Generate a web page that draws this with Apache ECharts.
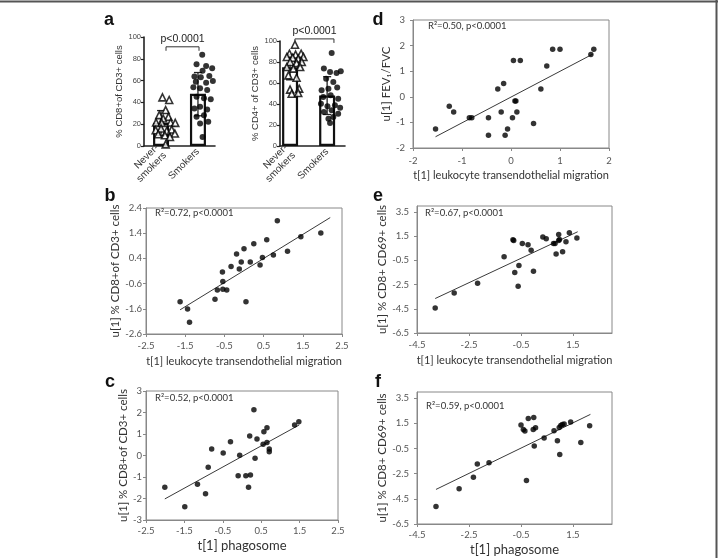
<!DOCTYPE html>
<html><head><meta charset="utf-8">
<script src="https://cdn.jsdelivr.net/npm/echarts@6/dist/echarts.min.js"></script>
<style>html,body{margin:0;padding:0;background:#fff}#c{width:718px;height:558px}</style>
</head><body><div id="c"></div>
<script>
// ---------- Panel a ----------
const aCategories = ['Never-\nsmokers', 'Smokers'];
const a1BarPos = [0.48, 1.52];
const a1Means = [21, 48];
const a1Err = [[0.48, 9.5, 32.5], [1.52, 27.7, 67.4]];
const a1Bracket = [[0.62, 1.55, 91, 'p<0.0001']];
const a1Never = [[0.52,44.6],[0.71,42.2],[0.61,33],[0.43,28.3],[0.69,26.8],[0.54,25.2],[0.34,21.5],[0.50,21.2],[0.75,21.5],[0.88,21.2],[0.33,14.5],[0.48,16],[0.64,13.8],[0.78,15.1],[0.87,11.4],[0.40,10.8],[0.59,9.8],[0.73,8.3],[0.61,1.5]];
const a1Smokers = [[1.64,83.7],[1.48,75],[1.75,73.5],[1.92,71.4],[1.65,69],[1.42,63.7],[1.60,63],[1.84,64.3],[1.46,59],[1.75,58],[1.94,59.7],[1.39,53.8],[1.58,52.9],[1.78,51.4],[1.48,45.2],[1.69,43.7],[1.88,42.8],[1.42,34.5],[1.58,36],[1.78,33.5],[1.48,26.8],[1.69,28.3],[1.58,20.6],[1.81,22.2],[1.65,8.3]];

const a2BarPos = [0.31, 1.45];
const a2Means = [75, 48];
const a2Err = [[0.31, 63, 87], [1.45, 30, 66]];
const a2Bracket = [[0.46, 1.66, 102, 'p<0.0001']];
const a2Never = [[0.46,96.5],[0.29,87.9],[0.48,87],[0.65,87.9],[0.21,84.8],[0.39,84.1],[0.56,83.2],[0.72,84.8],[0.31,80],[0.51,79],[0.67,80],[0.21,75.2],[0.41,73.7],[0.62,75.2],[0.26,67.3],[0.51,65],[0.31,53.7],[0.59,54.6],[0.36,49.8],[0.56,50.5]];
const a2Smokers = [[1.59,88.6],[1.35,73.7],[1.54,70.5],[1.74,69.5],[1.87,71.1],[1.42,64.1],[1.64,61],[1.28,53],[1.49,54.6],[1.76,55.6],[1.33,46.7],[1.56,48.3],[1.79,45.1],[1.26,40.3],[1.46,37.8],[1.69,38.7],[1.85,36.5],[1.35,32.4],[1.59,34],[1.79,30.8],[1.49,26],[1.64,27.6],[1.54,21.9]];

// ---------- Panel b ----------
const bPoints = [[-1.63,-1.32],[-1.44,-1.61],[-1.39,-2.13],[-0.74,-1.22],[-0.68,-0.85],[-0.55,-0.14],[-0.54,-0.52],[-0.54,-0.82],[-0.44,-0.85],[-0.33,0.08],[-0.19,0.57],[-0.12,-0.02],[-0.07,0.26],[0.00,0.78],[0.05,-1.32],[0.16,0.26],[0.25,0.98],[0.41,0.14],[0.47,0.44],[0.58,1.14],[0.75,0.53],[0.85,1.89],[1.11,0.68],[1.45,1.26],[1.96,1.41]];
const bTrend = [[-1.63,-1.64],[2.2,2.02]];
const bXTicks = [-2.5,-1.5,-0.5,0.5,1.5,2.5];
const bYTicks = [-2.6,-1.6,-0.6,0.4,1.4,2.4];

// ---------- Panel c ----------
const cPoints = [[-2.01,-1.48],[-1.49,-2.38],[-1.16,-1.34],[-0.95,-1.78],[-0.88,-0.55],[-0.79,0.30],[-0.49,0.12],[-0.30,0.64],[-0.10,-0.94],[-0.06,0.01],[0.10,-0.94],[0.17,-1.48],[0.20,0.91],[0.22,-0.91],[0.31,2.13],[0.34,-0.13],[0.39,0.77],[0.55,0.52],[0.57,1.11],[0.65,1.29],[0.65,0.61],[0.71,0.18],[0.71,0.30],[1.37,1.42],[1.48,1.57]];
const cTrend = [[-2.01,-2.02],[1.49,1.42]];
const cXTicks = [-2.5,-1.5,-0.5,0.5,1.5,2.5];
const cYTicks = [-3,-2,-1,0,1,2,3];

// ---------- Panel d ----------
const dPoints = [[-1.54,-1.26],[-1.26,-0.37],[-1.17,-0.59],[-0.85,-0.82],[-0.80,-0.82],[-0.46,-0.82],[-0.46,-1.50],[-0.27,0.30],[-0.15,0.52],[-0.20,-0.59],[-0.12,-1.50],[-0.07,-1.26],[0.03,-0.82],[0.05,1.42],[0.08,-0.16],[0.10,-0.16],[0.12,-0.59],[0.19,1.42],[0.46,-1.04],[0.61,0.30],[0.73,1.20],[0.85,1.86],[1.00,1.86],[1.63,1.65],[1.69,1.86]];
const dTrend = [[-1.54,-1.56],[1.67,1.67]];
const dXTicks = [-2,-1,0,1,2];
const dYTicks = [-2,-1,0,1,2,3];

// ---------- Panel e ----------
const ePoints = [[-3.80,-4.43],[-3.07,-3.19],[-2.17,-2.38],[-1.15,-0.20],[-0.81,1.21],[-0.78,1.15],[-0.74,-1.50],[-0.61,-2.63],[-0.58,-0.92],[-0.45,0.90],[-0.23,0.79],[-0.11,0.35],[-0.02,-1.39],[0.34,1.43],[0.47,1.29],[0.75,0.90],[0.81,0.90],[0.85,0.04],[0.95,1.65],[0.95,1.15],[0.98,1.23],[1.10,0.21],[1.23,1.04],[1.36,1.79],[1.65,1.35]];
const eTrend = [[-3.80,-3.65],[1.68,1.87]];
const eXTicks = [-4.5,-2.5,-0.5,1.5];
const eYTicks = [-6.5,-4.5,-2.5,-0.5,1.5,3.5];

// ---------- Panel f ----------
const fPoints = [[-3.77,-5.11],[-2.88,-3.70],[-2.33,-2.79],[-2.18,-1.73],[-1.73,-1.62],[-0.50,1.37],[-0.41,1.02],[-0.35,0.89],[-0.29,-3.03],[-0.22,1.90],[-0.03,1.02],[-0.01,1.98],[0.01,-0.29],[0.06,1.15],[0.39,0.35],[0.77,0.91],[0.90,0.13],[0.97,1.18],[0.99,-0.98],[1.03,1.34],[1.09,1.42],[1.16,1.45],[1.41,1.61],[1.80,-0.02],[2.14,1.31]];
const fTrend = [[-3.77,-3.75],[2.17,2.22]];
const fXTicks = [-4.5,-2.5,-0.5,1.5];
const fYTicks = [-6.5,-4.5,-2.5,-0.5,1.5,3.5];

const statTexts = ['R²=0.72, p<0.0001','R²=0.52, p<0.0001','R²=0.50, p<0.0001','R²=0.67, p<0.0001','R²=0.59, p<0.0001'];
const xNameLTM = 't[1] leukocyte transendothelial migration';
const xNamePhago = 't[1] phagosome';
const yNameCD8 = 'u[1] % CD8+of CD3+ cells';
const yNameFEV = 'u[1] FEV₁/FVC';
const yNameCD69 = 'u[1] % CD8+ CD69+ cells';

const FX = 'Lato, "Liberation Sans", sans-serif';
const FA = '"Liberation Sans", Arial, sans-serif';

const chart = echarts.init(document.getElementById('c'), null, {renderer: 'canvas'});

function aX(gi, pos) {
  return {gridIndex: gi, type: 'value', min: 0, max: 2,
    axisLine: {show: true, onZero: false, lineStyle: {color: '#222', width: 1.6}},
    axisTick: {show: false}, splitLine: {show: false},
    axisLabel: {customValues: pos, rotate: 45, fontSize: 10, lineHeight: 11, color: '#333', margin: 4, fontFamily: FA,
      formatter: v => aCategories[Math.abs(v - pos[0]) < 1e-6 ? 0 : 1]}};
}
function aY(gi, name, gap) {
  return {gridIndex: gi, type: 'value', min: 0, max: 100, interval: 20,
    axisLine: {show: true, onZero: false, lineStyle: {color: '#222', width: 1.6}},
    axisTick: {show: true, length: 3, lineStyle: {color: '#222', width: 1.2}},
    axisLabel: {fontSize: 7.5, color: '#444', margin: 3, fontFamily: FA},
    splitLine: {show: false},
    name, nameLocation: 'middle', nameGap: gap,
    nameTextStyle: {fontSize: 9.5, color: '#333', fontFamily: FA}};
}
function sX(gi, min, max, ticks, name, nameSize, nameGap, margin) {
  return {gridIndex: gi, type: 'value', min, max,
    axisLine: {show: true, onZero: false, lineStyle: {color: '#888', width: 1}},
    axisTick: {show: true, customValues: ticks, length: 3, lineStyle: {color: '#888'}},
    axisLabel: {customValues: ticks, fontSize: 9.5, color: '#555', margin, fontFamily: FX},
    splitLine: {show: false},
    name, nameLocation: 'middle', nameGap,
    nameTextStyle: {fontSize: nameSize, color: '#333', fontFamily: FX}};
}
function sY(gi, min, max, ticks, name, nameGap, margin) {
  return {gridIndex: gi, type: 'value', min, max,
    axisLine: {show: true, onZero: false, lineStyle: {color: '#888', width: 1}},
    axisTick: {show: true, customValues: ticks, length: 3, lineStyle: {color: '#888'}},
    axisLabel: {customValues: ticks, fontSize: 9.5, color: '#555', margin, fontFamily: FX},
    splitLine: {show: false},
    name, nameLocation: 'middle', nameGap,
    nameTextStyle: {fontSize: 11.5, color: '#333', fontFamily: FX}};
}

function errRender(params, api) {
  const x = api.value(0), lo = api.value(1), hi = api.value(2);
  const a = api.coord([x, lo]), b = api.coord([x, hi]);
  const w = 4, st = {stroke: '#222', lineWidth: 1.3};
  return {type: 'group', children: [
    {type: 'line', shape: {x1: a[0], y1: a[1], x2: b[0], y2: b[1]}, style: st},
    {type: 'line', shape: {x1: a[0]-w, y1: a[1], x2: a[0]+w, y2: a[1]}, style: st},
    {type: 'line', shape: {x1: b[0]-w, y1: b[1], x2: b[0]+w, y2: b[1]}, style: st}
  ]};
}
function bracketRender(params, api) {
  const x0 = api.value(0), x1 = api.value(1), y = api.value(2);
  const p0 = api.coord([x0, y]), p1 = api.coord([x1, y]);
  const leg = 4;
  return {type: 'group', children: [
    {type: 'polyline', shape: {points: [[p0[0], p0[1]+leg],[p0[0], p0[1]],[p1[0], p1[1]],[p1[0], p1[1]+leg]]},
      style: {stroke: '#333', lineWidth: 1, fill: null}},
    {type: 'text', x: (p0[0]+p1[0])/2, y: p0[1]-2,
      style: {text: 'p<0.0001', fill: '#222', fontSize: 10.5, fontFamily: FA, align: 'center', verticalAlign: 'bottom'}}
  ]};
}

function scatterSeries(gi, data) {
  return {type: 'scatter', xAxisIndex: gi, yAxisIndex: gi, data, symbolSize: 5.5,
    itemStyle: {color: '#000'}, z: 3};
}
function trendSeries(gi, data) {
  return {type: 'line', xAxisIndex: gi, yAxisIndex: gi, data, symbol: 'none',
    lineStyle: {color: '#3a3a3a', width: 1}, z: 2, silent: true};
}
function barData(pos, means) { return pos.map((p, i) => [p, means[i]]); }

const gridBox = {show: true, borderColor: '#888', borderWidth: 1, backgroundColor: 'transparent'};

const option = {
  animation: false,
  backgroundColor: '#fff',
  grid: [
    {left: 144, top: 37, width: 71, height: 109},
    {left: 280, top: 41, width: 65, height: 105},
    Object.assign({left: 146, top: 208, width: 196, height: 126}, gridBox),
    Object.assign({left: 146, top: 391, width: 192, height: 129}, gridBox),
    Object.assign({left: 413, top: 20, width: 196, height: 128}, gridBox),
    Object.assign({left: 417, top: 206, width: 195, height: 127}, gridBox),
    Object.assign({left: 417, top: 392, width: 195, height: 132}, gridBox)
  ],
  xAxis: [
    aX(0, a1BarPos), aX(1, a2BarPos),
    sX(2, -2.5, 2.5, bXTicks, xNameLTM, 11, 22, 7),
    sX(3, -2.5, 2.5, cXTicks, xNamePhago, 13, 19, 6),
    sX(4, -2, 2, dXTicks, xNameLTM, 11, 22, 8),
    sX(5, -4.5, 3.0, eXTicks, xNameLTM, 11, 22, 7),
    sX(6, -4.5, 3.0, fXTicks, xNamePhago, 13, 19, 6)
  ],
  yAxis: [
    aY(0, '% CD8+of CD3+ cells', 11), aY(1, '% CD4+ of CD3+ cells', 11),
    sY(2, -2.6, 2.4, bYTicks, yNameCD8, 21, 4),
    sY(3, -3, 3, cYTicks, yNameCD8, 16, 4),
    sY(4, -2, 3, dYTicks, yNameFEV, 16, 8),
    sY(5, -6.5, 4.0, eYTicks, yNameCD69, 25, 8),
    sY(6, -6.5, 4.0, fYTicks, yNameCD69, 25, 8)
  ],
  series: [
    {type: 'bar', xAxisIndex: 0, yAxisIndex: 0, data: barData(a1BarPos, a1Means), barWidth: 16,
      itemStyle: {color: '#fff', borderColor: '#111', borderWidth: 2.2}, z: 1},
    {type: 'custom', xAxisIndex: 0, yAxisIndex: 0, data: a1Err, renderItem: errRender, z: 2},
    {type: 'scatter', xAxisIndex: 0, yAxisIndex: 0, data: a1Never, symbol: 'triangle', symbolSize: 7,
      itemStyle: {color: '#fff', borderColor: '#000', borderWidth: 1.6}, z: 3},
    {type: 'scatter', xAxisIndex: 0, yAxisIndex: 0, data: a1Smokers, symbolSize: 6, itemStyle: {color: '#000'}, z: 3},
    {type: 'custom', xAxisIndex: 0, yAxisIndex: 0, data: a1Bracket, renderItem: bracketRender, z: 4},

    {type: 'bar', xAxisIndex: 1, yAxisIndex: 1, data: barData(a2BarPos, a2Means), barWidth: 16,
      itemStyle: {color: '#fff', borderColor: '#111', borderWidth: 2.2}, z: 1},
    {type: 'custom', xAxisIndex: 1, yAxisIndex: 1, data: a2Err, renderItem: errRender, z: 2},
    {type: 'scatter', xAxisIndex: 1, yAxisIndex: 1, data: a2Never, symbol: 'triangle', symbolSize: 7,
      itemStyle: {color: '#fff', borderColor: '#000', borderWidth: 1.6}, z: 3},
    {type: 'scatter', xAxisIndex: 1, yAxisIndex: 1, data: a2Smokers, symbolSize: 6, itemStyle: {color: '#000'}, z: 3},
    {type: 'custom', xAxisIndex: 1, yAxisIndex: 1, data: a2Bracket, renderItem: bracketRender, z: 4},

    trendSeries(2, bTrend), scatterSeries(2, bPoints),
    trendSeries(3, cTrend), scatterSeries(3, cPoints),
    trendSeries(4, dTrend), scatterSeries(4, dPoints),
    trendSeries(5, eTrend), scatterSeries(5, ePoints),
    trendSeries(6, fTrend), scatterSeries(6, fPoints)
  ],
  graphic: [
    {type: 'line', shape: {x1: 0, y1: 1.5, x2: 718, y2: 1.5}, style: {stroke: '#555', lineWidth: 2}},
    {type: 'line', shape: {x1: 716.5, y1: 0, x2: 716.5, y2: 558}, style: {stroke: '#555', lineWidth: 2}},
    {type: 'text', x: 109, y: 20, style: {text: 'a', fontSize: 18, fontWeight: 'bold', fontFamily: FA, fill: '#111', align: 'center', verticalAlign: 'middle'}},
    {type: 'text', x: 110, y: 196, style: {text: 'b', fontSize: 18, fontWeight: 'bold', fontFamily: FA, fill: '#111', align: 'center', verticalAlign: 'middle'}},
    {type: 'text', x: 110, y: 382, style: {text: 'c', fontSize: 18, fontWeight: 'bold', fontFamily: FA, fill: '#111', align: 'center', verticalAlign: 'middle'}},
    {type: 'text', x: 378, y: 20, style: {text: 'd', fontSize: 18, fontWeight: 'bold', fontFamily: FA, fill: '#111', align: 'center', verticalAlign: 'middle'}},
    {type: 'text', x: 378, y: 196, style: {text: 'e', fontSize: 18, fontWeight: 'bold', fontFamily: FA, fill: '#111', align: 'center', verticalAlign: 'middle'}},
    {type: 'text', x: 378, y: 382, style: {text: 'f', fontSize: 18, fontWeight: 'bold', fontFamily: FA, fill: '#111', align: 'center', verticalAlign: 'middle'}},
    {type: 'text', x: 155, y: 213, style: {text: statTexts[0], fontSize: 9.5, fontFamily: FX, fill: '#333', verticalAlign: 'middle'}},
    {type: 'text', x: 155, y: 398, style: {text: statTexts[1], fontSize: 9.5, fontFamily: FX, fill: '#333', verticalAlign: 'middle'}},
    {type: 'text', x: 428, y: 26, style: {text: statTexts[2], fontSize: 9.5, fontFamily: FX, fill: '#333', verticalAlign: 'middle'}},
    {type: 'text', x: 425, y: 213, style: {text: statTexts[3], fontSize: 9.5, fontFamily: FX, fill: '#333', verticalAlign: 'middle'}},
    {type: 'text', x: 426, y: 406, style: {text: statTexts[4], fontSize: 9.5, fontFamily: FX, fill: '#333', verticalAlign: 'middle'}}
  ]
};
chart.setOption(option);
</script>
</body></html>
